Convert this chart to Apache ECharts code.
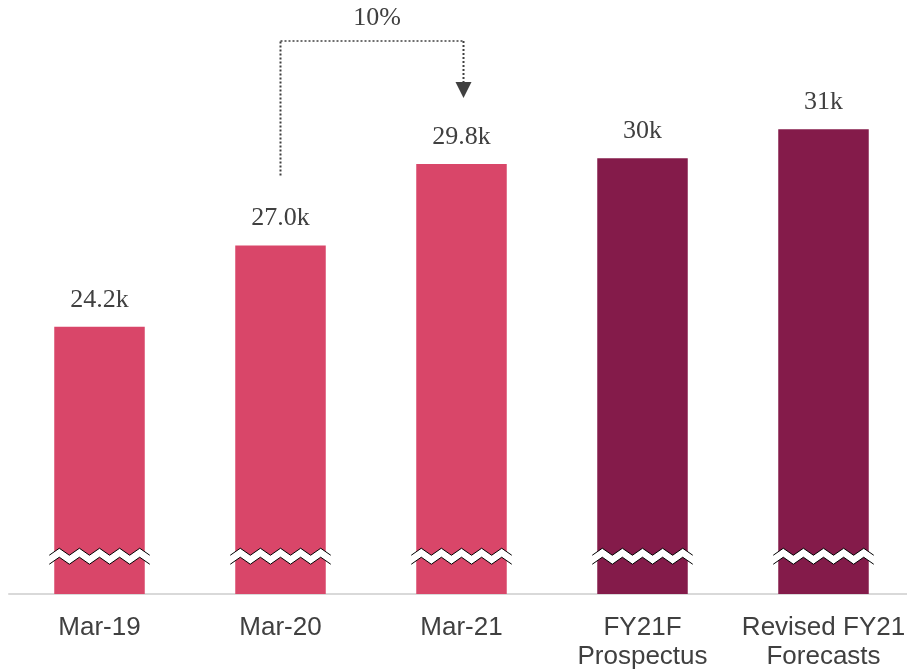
<!DOCTYPE html>
<html>
<head>
<meta charset="utf-8">
<script src="https://cdn.jsdelivr.net/npm/echarts@6/dist/echarts.min.js"></script>
<style>
  html, body { margin: 0; background: #fff; }
  #main { width: 907px; height: 670px; }
</style>
</head>
<body>
<div id="main"></div>
<script>
// chart data (k)
const categories = ['Mar-19', 'Mar-20', 'Mar-21', 'FY21F\nProspectus', 'Revised FY21\nForecasts'];
const values = [24.2, 27.0, 29.8, 30, 31];
const valueLabels = ['24.2k', '27.0k', '29.8k', '30k', '31k'];
const kinds = ['actual', 'actual', 'actual', 'forecast', 'forecast'];
const breakLevel = 16.3;          // where the axis break is drawn
const growthFrom = 1;             // Mar-20
const growthTo = 2;               // Mar-21
const growthLabel = '10%';

const kindColors = { actual: '#D94669', forecast: '#841B4A' };
const textColor = '#404040';

const chart = echarts.init(document.getElementById('main'));

function renderBreak(params, api) {
  const c = api.coord([api.value(0), api.value(1)]);
  const half = api.size([1, 0])[0] * 0.25 + 5;
  const n = 5;
  const step = (half * 2) / (n * 2);
  const top = [];
  const bot = [];
  for (let i = 0; i <= n * 2; i++) {
    const x = c[0] - half + i * step;
    const y = c[1] + (i % 2 === 0 ? -1 : -8);
    top.push([x, y]);
    bot.push([x, y + 9]);
  }
  return {
    type: 'group',
    children: [
      { type: 'polygon', shape: { points: top.concat(bot.slice().reverse()) }, style: { fill: '#fff' } },
      { type: 'polyline', shape: { points: top }, style: { stroke: '#000', lineWidth: 1, fill: 'none' } },
      { type: 'polyline', shape: { points: bot }, style: { stroke: '#000', lineWidth: 1, fill: 'none' } }
    ]
  };
}

function renderGrowth(params, api) {
  const a = api.coord([api.value(0), api.value(2)]);
  const b = api.coord([api.value(1), api.value(3)]);
  const topY = Math.min(a[1], b[1]) - 123;
  const startY = a[1] - 70;
  const tipY = b[1] - 66;
  const bx = b[0] + 2;
  const dotted = { stroke: textColor, lineWidth: 2, lineDash: [2, 2], fill: 'none' };
  return {
    type: 'group',
    children: [
      { type: 'line', shape: { x1: a[0], y1: startY, x2: a[0], y2: topY }, style: dotted },
      { type: 'line', shape: { x1: a[0], y1: topY, x2: bx, y2: topY },
        style: Object.assign({}, dotted, { lineWidth: 1.5 }) },
      { type: 'line', shape: { x1: bx, y1: topY, x2: bx, y2: tipY - 16 }, style: dotted },
      { type: 'polygon', shape: { points: [[bx - 8, tipY - 16], [bx + 8, tipY - 16], [bx, tipY]] },
        style: { fill: textColor } },
      { type: 'text', style: {
          text: growthLabel,
          x: (a[0] + bx) / 2 + 5, y: topY - 23,
          align: 'center', verticalAlign: 'middle',
          textAlign: 'center', textVerticalAlign: 'middle',
          font: '26px "Liberation Serif"', fill: textColor
        } }
    ]
  };
}

chart.setOption({
  animation: false,
  backgroundColor: '#fff',
  grid: { left: 9, width: 905, top: 13, bottom: 76, outerBoundsMode: 'none', containLabel: false },
  xAxis: {
    type: 'category',
    data: categories,
    axisLine: { lineStyle: { color: '#d9d9d9', width: 2 } },
    axisTick: { show: false },
    axisLabel: {
      interval: 0, margin: 19, fontSize: 26, lineHeight: 29,
      fontFamily: 'Liberation Sans', color: textColor
    }
  },
  yAxis: {
    type: 'value', min: 15, max: 35, show: false,
    splitLine: { show: false }
  },
  series: [
    {
      type: 'bar',
      barWidth: '50%',
      data: values.map((v, i) => ({ value: v, itemStyle: { color: kindColors[kinds[i]] } })),
      label: {
        show: true, position: 'top', distance: 14,
        formatter: (p) => valueLabels[p.dataIndex],
        fontSize: 26, fontFamily: 'Liberation Serif', color: textColor
      }
    },
    {
      type: 'custom',
      renderItem: renderBreak,
      data: categories.map((c, i) => [i, breakLevel]),
      encode: { x: 0, y: 1 },
      z: 5,
      silent: true
    },
    {
      type: 'custom',
      renderItem: renderGrowth,
      data: [[growthFrom, growthTo, values[growthFrom], values[growthTo]]],
      encode: { x: 0, y: 2 },
      clip: false,
      z: 5,
      silent: true
    }
  ]
});
</script>
</body>
</html>
